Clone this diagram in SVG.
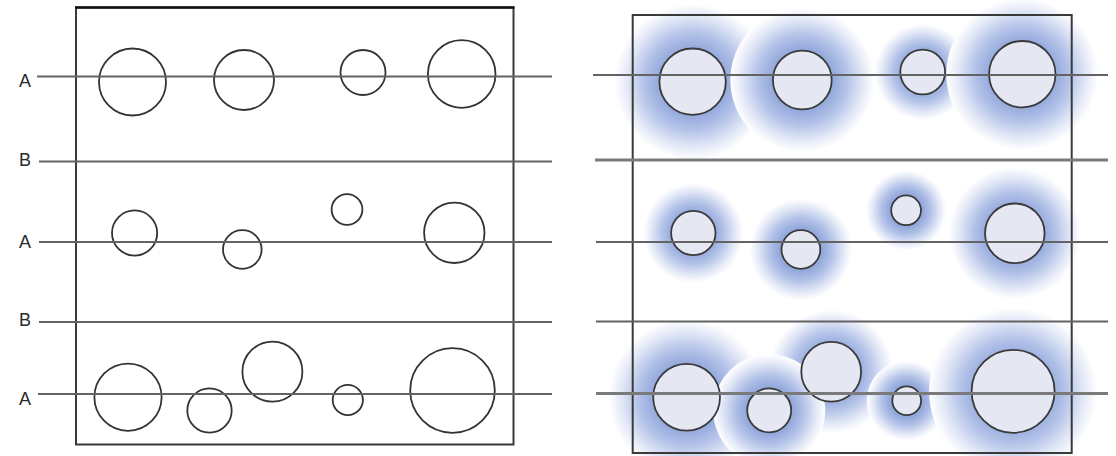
<svg xmlns="http://www.w3.org/2000/svg" width="1116" height="456" viewBox="0 0 1116 456">
  <style>
    .label { font-family: "Liberation Sans", "DejaVu Sans", sans-serif; font-size: 18px; fill: #2a2a2a; }
    .frame { fill: none; stroke: #3a3a3a; stroke-width: 2; }
    .rowline { stroke: #636363; stroke-width: 2; }
    .rowline.heavy { stroke: #7a7a7a; stroke-width: 3; }
    .ring { fill: none; stroke: #333; stroke-width: 1.8; }
    .bubble { fill: #e5e8f3; stroke: #3a3a3a; stroke-width: 1.8; }
    .halo { fill: url(#haloFill); }
  </style>
  <defs>
    <!-- soft blue halo that fades to opaque white at its rim -->
    <radialGradient id="haloFill" cx="0.5" cy="0.5" r="0.5">
      <stop offset="0" stop-color="#8ea3d9"/>
      <stop offset="0.42" stop-color="#93a8db"/>
      <stop offset="0.62" stop-color="#b3c2e8"/>
      <stop offset="0.84" stop-color="#e2e8f6"/>
      <stop offset="1" stop-color="#ffffff"/>
    </radialGradient>
  </defs>

  <rect width="1116" height="456" fill="#ffffff"/>

  <!-- left panel: plain outlines -->
  <g id="left-panel">
    <rect class="frame" x="76" y="7.5" width="437.5" height="437"/>
    <line x1="75" y1="7.5" x2="514.5" y2="7.5" stroke="#111" stroke-width="2.4"/>
    <g id="L1a"><circle class="ring" cx="132.5" cy="82" r="33.5"/></g>
    <g id="L1b"><circle class="ring" cx="244" cy="80" r="30"/></g>
    <g id="L1c"><circle class="ring" cx="363" cy="72.5" r="22.5"/></g>
    <g id="L1d"><circle class="ring" cx="461.7" cy="74" r="33.8"/></g>

    <g id="L2a"><circle class="ring" cx="134.6" cy="233" r="22.6"/></g>
    <g id="L2b"><circle class="ring" cx="242.3" cy="249.5" r="19.3"/></g>
    <g id="L2c"><circle class="ring" cx="347" cy="209.5" r="15.4"/></g>
    <g id="L2d"><circle class="ring" cx="454.3" cy="232.8" r="30.2"/></g>

    <g id="L3a"><circle class="ring" cx="128" cy="397.2" r="33.6"/></g>
    <g id="L3b"><circle class="ring" cx="209.5" cy="410.5" r="22.2"/></g>
    <g id="L3c"><circle class="ring" cx="272.4" cy="371.7" r="30"/></g>
    <g id="L3d"><circle class="ring" cx="347.8" cy="400" r="15.1"/></g>
    <g id="L3e"><circle class="ring" cx="452.5" cy="390.5" r="42.3"/></g>
  </g>

  <!-- right panel: filled bubbles with halos -->
  <g id="right-panel">
    <g id="halos">
      <circle class="halo" cx="692.6" cy="81.7" r="78"/>
      <circle class="halo" cx="802.3" cy="80" r="72"/>
      <circle class="halo" cx="922.7" cy="72" r="48"/>
      <circle class="halo" cx="1022.3" cy="74.2" r="76"/>

      <circle class="halo" cx="693.3" cy="233" r="50"/>
      <circle class="halo" cx="800.9" cy="249.5" r="51"/>
      <circle class="halo" cx="906.1" cy="210.3" r="40"/>
      <circle class="halo" cx="1014.8" cy="233.3" r="66"/>

      <circle class="halo" cx="831.2" cy="371.7" r="62"/>
      <circle class="halo" cx="686.6" cy="397.3" r="78"/>
      <circle class="halo" cx="769.2" cy="410.3" r="56"/>
      <circle class="halo" cx="906.7" cy="400.8" r="40"/>
      <circle class="halo" cx="1013.1" cy="391.3" r="84"/>
    </g>
    <rect class="frame" x="632.7" y="15" width="439" height="438"/>
    <g id="R1a"><circle class="bubble" cx="692.6" cy="81.7" r="33.2"/></g>
    <g id="R1b"><circle class="bubble" cx="802.3" cy="80" r="29.4"/></g>
    <g id="R1c"><circle class="bubble" cx="922.7" cy="72" r="22.4"/></g>
    <g id="R1d"><circle class="bubble" cx="1022.3" cy="74.2" r="33.2"/></g>

    <g id="R2a"><circle class="bubble" cx="693.3" cy="233" r="22.2"/></g>
    <g id="R2b"><circle class="bubble" cx="800.9" cy="249.5" r="19.4"/></g>
    <g id="R2c"><circle class="bubble" cx="906.1" cy="210.3" r="14.9"/></g>
    <g id="R2d"><circle class="bubble" cx="1014.8" cy="233.3" r="29.8"/></g>

    <g id="R3a"><circle class="bubble" cx="686.6" cy="397.3" r="33.4"/></g>
    <g id="R3b"><circle class="bubble" cx="769.2" cy="410.3" r="22"/></g>
    <g id="R3c"><circle class="bubble" cx="831.2" cy="371.7" r="29.9"/></g>
    <g id="R3d"><circle class="bubble" cx="906.7" cy="400.8" r="14.4"/></g>
    <g id="R3e"><circle class="bubble" cx="1013.1" cy="391.3" r="41.5"/></g>
  </g>

  <!-- horizontal row lines -->
  <g id="connectors">
    <line class="rowline" x1="37" y1="76.5" x2="552" y2="76.5"/>
    <line class="rowline" x1="39" y1="161.5" x2="552" y2="161.5"/>
    <line class="rowline" x1="39" y1="242" x2="552" y2="242"/>
    <line class="rowline" x1="39" y1="322" x2="552" y2="322"/>
    <line class="rowline" x1="38" y1="394" x2="552" y2="394"/>

    <line class="rowline" x1="593" y1="75" x2="1108" y2="75"/>
    <line class="rowline heavy" x1="595" y1="160" x2="1108" y2="160"/>
    <line class="rowline" x1="596" y1="242" x2="1108" y2="242"/>
    <line class="rowline" x1="596" y1="321.5" x2="1108" y2="321.5"/>
    <line class="rowline heavy" x1="596" y1="393.5" x2="1108" y2="393.5"/>
  </g>

  <!-- row labels -->
  <g id="labels">
    <text class="label" x="31" y="86.5" text-anchor="end">A</text>
    <text class="label" x="31" y="165.5" text-anchor="end">B</text>
    <text class="label" x="31" y="247.5" text-anchor="end">A</text>
    <text class="label" x="31" y="325.5" text-anchor="end">B</text>
    <text class="label" x="31" y="404.5" text-anchor="end">A</text>
  </g>
</svg>
